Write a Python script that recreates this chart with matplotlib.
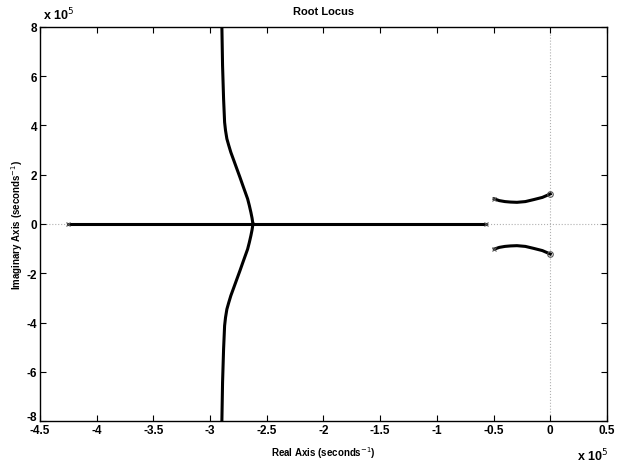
import numpy as np
import matplotlib

matplotlib.use("Agg")
import matplotlib.pyplot as plt
import matplotlib.transforms as mtransforms

plt.rcParams["font.family"] = ["Liberation Sans", "DejaVu Sans"]

# --------------------------------------------------------------------------- #
# Locus data (units of 1e5 s^-1)
# --------------------------------------------------------------------------- #
# real-axis segment between the two real poles
real_seg_re = [-4.25, -0.57]

# branch leaving the breakaway point, upper half (lower half is its mirror)
brk_re = [-2.622, -2.630, -2.640, -2.654, -2.669, -2.690, -2.711, -2.737,
          -2.764, -2.790, -2.817, -2.836, -2.852, -2.864, -2.872, -2.881,
          -2.890, -2.896]
brk_im = [0.0, 0.24, 0.47, 0.75, 1.02, 1.29, 1.56, 1.90,
          2.24, 2.57, 2.91, 3.20, 3.46, 3.80, 4.13, 5.08,
          6.43, 8.0]

# complex pole pair -> zero pair branch, upper half
cpx_re = [-0.494, -0.45, -0.40, -0.35, -0.294, -0.22, -0.147, -0.07, 0.0]
cpx_im = [1.02, 0.95, 0.91, 0.89, 0.88, 0.91, 0.99, 1.08, 1.22]

poles_re = [-4.25, -0.57, -0.494, -0.494]
poles_im = [0.0, 0.0, 1.02, -1.02]
zeros_re = [0.0, 0.0]
zeros_im = [1.22, -1.22]

x_ticks = np.arange(-4.5, 0.51, 0.5)
x_ticklabels = ["-4.5", "-4", "-3.5", "-3", "-2.5", "-2", "-1.5", "-1",
                "-0.5", "0", "0.5"]
y_ticks = np.arange(-8, 8.1, 2)
y_ticklabels = ["-8", "-6", "-4", "-2", "0", "2", "4", "6", "8"]

fig = plt.figure(figsize=(6.17, 4.64), dpi=100)
ax = fig.add_axes([0.0648, 0.0905, 0.919, 0.8492])

# dotted reference axes
ax.axhline(0, color="#b0b0b0", lw=0.8, ls=":", zorder=1)
ax.axvline(0, color="#b0b0b0", lw=0.8, ls=":", zorder=1)

lw = 2.2
ax.plot(real_seg_re, [0, 0], color="black", lw=lw, zorder=3)
brk_re = np.array(brk_re)
brk_im = np.array(brk_im)
ax.plot(brk_re, brk_im, color="black", lw=lw, zorder=3)
ax.plot(brk_re, -brk_im, color="black", lw=lw, zorder=3)
cpx_re = np.array(cpx_re)
cpx_im = np.array(cpx_im)
ax.plot(cpx_re, cpx_im, color="black", lw=lw, zorder=3)
ax.plot(cpx_re, -cpx_im, color="black", lw=lw, zorder=3)

ax.plot(poles_re, poles_im, ls="none", marker="x", ms=3, mew=0.8,
        color="#555555", zorder=4)
ax.plot(zeros_re, zeros_im, ls="none", marker="o", ms=4, mew=0.8,
        mfc="none", mec="#555555", zorder=4)

ax.set_xlim(-4.5, 0.5)
ax.set_ylim(-8, 8)
ax.set_xticks(x_ticks, x_ticklabels)
ax.set_yticks(y_ticks, y_ticklabels)
ax.tick_params(direction="in", length=4, width=0.8, top=True, right=True,
               labelsize=8.5, pad=2)
for lab in ax.get_xticklabels() + ax.get_yticklabels():
    lab.set_fontweight("bold")

# lift the bottom y label clear of the first x label
lowest = ax.get_yticklabels()[0]
lowest.set_transform(lowest.get_transform() +
                     mtransforms.ScaledTranslation(0, 4 / 72,
                                                   fig.dpi_scale_trans))

for sp in ax.spines.values():
    sp.set_linewidth(1.0)

ax.set_title("Root Locus", fontsize=8, fontweight="bold", pad=9)
ax.set_xlabel("Real Axis (seconds$^{-1}$)", fontsize=7, fontweight="bold",
              labelpad=6)
ax.set_ylabel("Imaginary Axis (seconds$^{-1}$)", fontsize=7,
              fontweight="bold", labelpad=1)

fig.text(0.069, 0.968, "x 10$^5$", fontsize=9, fontweight="bold",
         ha="left", va="center")
fig.text(0.935, 0.018, "x 10$^5$", fontsize=9, fontweight="bold",
         ha="left", va="center")

fig.savefig("out.png", dpi=100)
